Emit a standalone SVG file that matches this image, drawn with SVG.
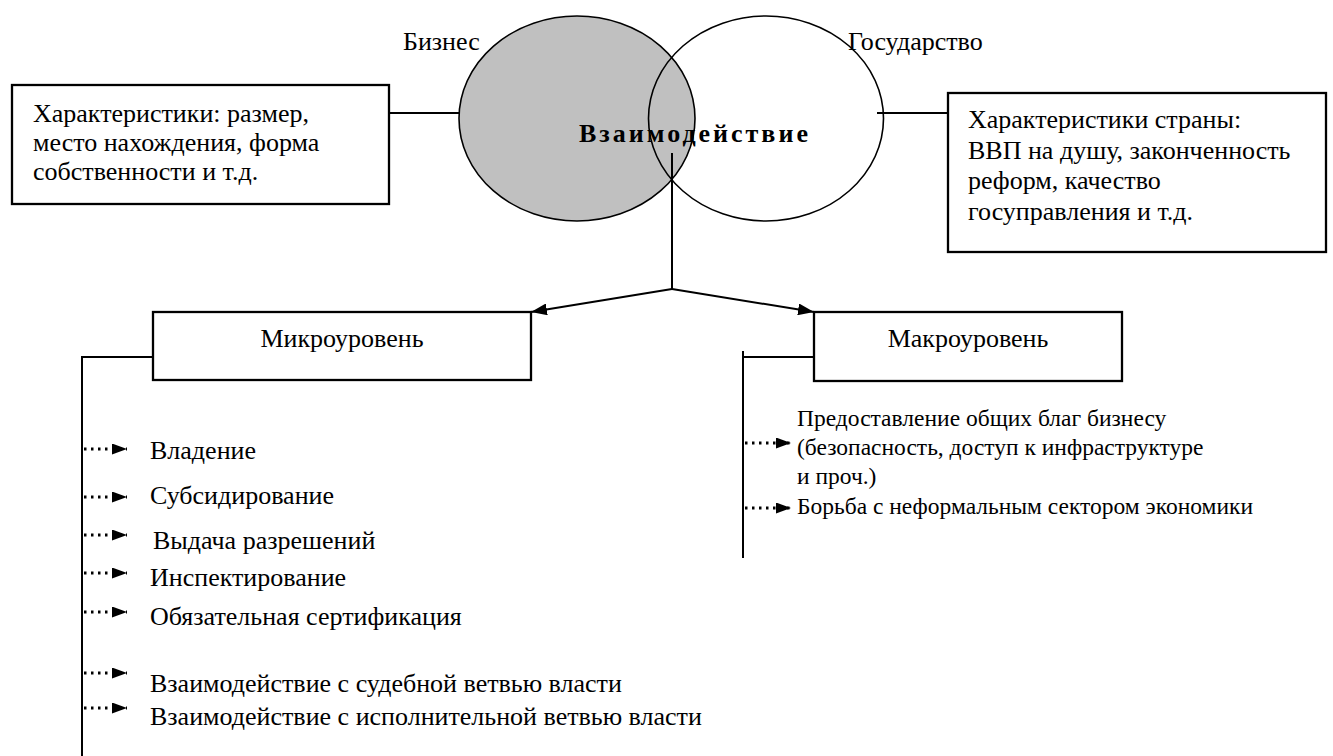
<svg xmlns="http://www.w3.org/2000/svg" width="1333" height="756" viewBox="0 0 1333 756">
<style>
.t{font-family:"Liberation Serif","Times New Roman",serif;font-size:26px;fill:#000}
.r{font-family:"Liberation Serif","Times New Roman",serif;font-size:23.5px;fill:#000}
.box{fill:#fff;stroke:#000;stroke-width:2.3}
.ln{stroke:#000;stroke-width:2;fill:none}
.dot{stroke:#000;stroke-width:3;stroke-dasharray:2.5 4.5;fill:none}
.ell{stroke:#000;stroke-width:1.6}
</style>
<defs>
<marker id="big" viewBox="0 0 16 12" refX="16" refY="6" markerWidth="16" markerHeight="12" markerUnits="userSpaceOnUse" orient="auto"><path d="M0,0 L16,6 L0,12 Z" fill="#000"/></marker>
<marker id="sm" viewBox="0 0 15 11" refX="15" refY="5.5" markerWidth="15" markerHeight="11" markerUnits="userSpaceOnUse" orient="auto"><path d="M0,0 L15,5.5 L0,11 Z" fill="#000"/></marker>
</defs>
<rect width="1333" height="756" fill="#fff"/>
<g id="venn">
<ellipse class="ell" cx="577" cy="118.5" rx="118" ry="102.5" fill="#c0c0c0"/>
<ellipse class="ell" cx="766" cy="118.5" rx="117.5" ry="102.5" fill="none"/>
<text class="t" x="403" y="50">Бизнес</text>
<text class="t" x="848" y="50">Государство</text>
<text class="t" x="579" y="142" font-weight="bold" letter-spacing="3">Взаимодействие</text>
</g>
<g id="connectors">
<line class="ln" x1="389" y1="113" x2="459" y2="113"/>
<line class="ln" x1="877" y1="113" x2="948" y2="113"/>
<line class="ln" x1="672" y1="153" x2="672" y2="289"/>
<line class="ln" x1="672" y1="289" x2="531" y2="312" marker-end="url(#big)"/>
<line class="ln" x1="672" y1="289" x2="814" y2="312" marker-end="url(#big)"/>
<polyline class="ln" points="153,357 82,357 82,756"/>
<polyline class="ln" points="814,357 743,357"/>
<line class="ln" x1="743" y1="351" x2="743" y2="558"/>
<line class="dot" x1="84" y1="449" x2="127" y2="449" marker-end="url(#sm)"/>
<line class="dot" x1="84" y1="497" x2="127" y2="497" marker-end="url(#sm)"/>
<line class="dot" x1="84" y1="535" x2="127" y2="535" marker-end="url(#sm)"/>
<line class="dot" x1="84" y1="573" x2="127" y2="573" marker-end="url(#sm)"/>
<line class="dot" x1="84" y1="612" x2="127" y2="612" marker-end="url(#sm)"/>
<line class="dot" x1="84" y1="673" x2="127" y2="673" marker-end="url(#sm)"/>
<line class="dot" x1="84" y1="708" x2="127" y2="708" marker-end="url(#sm)"/>
<line class="dot" x1="745" y1="443" x2="791" y2="443" marker-end="url(#sm)"/>
<line class="dot" x1="745" y1="508" x2="791" y2="508" marker-end="url(#sm)"/>
</g>
<g id="business-box">
<rect class="box" x="12" y="85" width="377" height="119"/>
<text class="t" x="33" y="122">Характеристики: размер,</text>
<text class="t" x="33" y="151">место нахождения, форма</text>
<text class="t" x="33" y="180">собственности и т.д.</text>
</g>
<g id="state-box">
<rect class="box" x="948" y="93" width="378" height="159"/>
<text class="t" x="968" y="128">Характеристики страны:</text>
<text class="t" x="968" y="158.5">ВВП на душу, законченность</text>
<text class="t" x="968" y="189">реформ, качество</text>
<text class="t" x="968" y="219.5">госуправления и т.д.</text>
</g>
<g id="micro">
<rect class="box" x="153" y="312" width="378" height="68"/>
<text class="t" x="342" y="347" text-anchor="middle">Микроуровень</text>
</g>
<g id="macro">
<rect class="box" x="814" y="312" width="308" height="69"/>
<text class="t" x="968" y="347" text-anchor="middle">Макроуровень</text>
</g>
<g id="micro-items">
<text class="t" x="150" y="459">Владение</text>
<text class="t" x="150" y="504">Субсидирование</text>
<text class="t" x="153" y="549">Выдача разрешений</text>
<text class="t" x="150" y="586">Инспектирование</text>
<text class="t" x="150" y="625">Обязательная сертификация</text>
<text class="t" x="150" y="692">Взаимодействие с судебной ветвью власти</text>
<text class="t" x="150" y="725">Взаимодействие с исполнительной ветвью власти</text>
</g>
<g id="macro-items">
<text class="r" x="797" y="426">Предоставление общих благ бизнесу</text>
<text class="r" x="797" y="455">(безопасность, доступ к инфраструктуре</text>
<text class="r" x="797" y="484">и проч.)</text>
<text class="r" x="797" y="514">Борьба с неформальным сектором экономики</text>
</g>
</svg>
